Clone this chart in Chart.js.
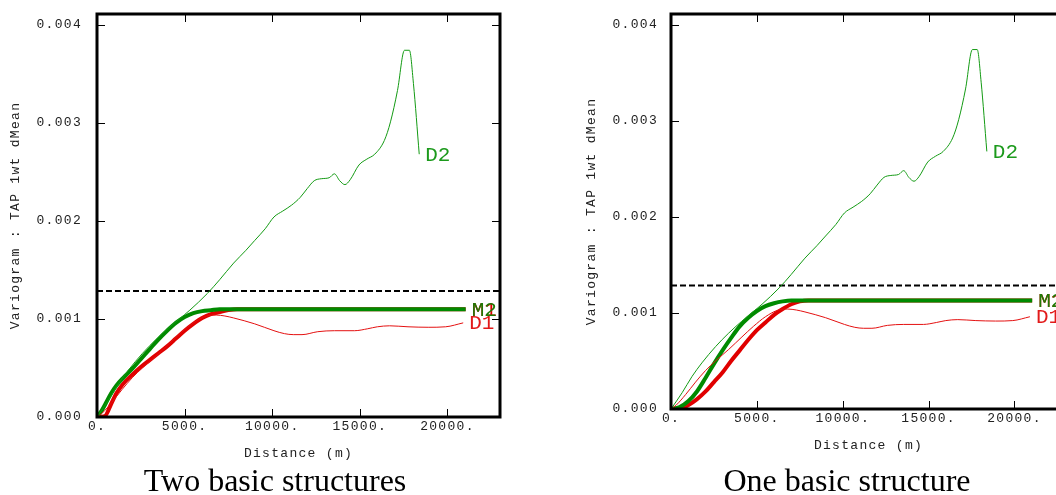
<!DOCTYPE html>
<html>
<head>
<meta charset="utf-8">
<script src="https://cdn.jsdelivr.net/npm/chart.js@4.4.1/dist/chart.umd.min.js"></script>
<style>
html,body{margin:0;padding:0;background:#fff;overflow:hidden;width:1056px;height:495px;}
#wrap{position:relative;width:1056px;height:495px;overflow:hidden;background:#fff;}
canvas{position:absolute;top:0;}
.cap{position:absolute;top:464px;width:400px;text-align:center;font-family:'Liberation Serif','Times New Roman',serif;font-size:32px;line-height:32px;color:#000;white-space:nowrap;}
</style>
</head>
<body>
<div id="wrap">
<canvas id="c1" width="528" height="495" style="left:0px"></canvas>
<canvas id="c2" width="520" height="495" style="left:576px"></canvas>
<div class="cap" id="t1" style="left:75px"></div>
<div class="cap" id="t2" style="left:647px"></div>
</div>
<script>
// ---- data ----
const panelTitles = ['Two basic structures', 'One basic structure'];
const xAxisTitle = 'Distance (m)';
const yAxisTitle = 'Variogram : TAP 1wt dMean';
const xTickValues = [0, 5000, 10000, 15000, 20000];
const yTickValues = [0, 0.001, 0.002, 0.003, 0.004];
const xMax = 23000;
const yMax = 0.00411;
const sillValue = 0.001285;

// experimental variograms (same in both panels)
const d1Dist = [0,300,850,1430,2010,2590,3360,4130,4800,5500,6250,6800,7300,7800,9000,10100,10700,11200,11700,12600,13550,14700,15450,16000,16700,17750,18900,19900,20900];
const d1Val  = [0,0.00004,0.00015,0.00028,0.0004,0.0005,0.00062,0.00075,0.00086,0.00096,0.00103,0.00104,0.00103,0.00101,0.00095,0.00088,0.00085,0.00084,0.00084,0.00087,0.00088,0.00088,0.0009,0.00092,0.00093,0.00092,0.000915,0.00092,0.00096];

const d2Dist = [0,650,1230,1800,2600,3360,4100,4700,5300,6300,7000,7800,8500,9000,9600,10100,10600,11100,11600,12000,12400,12800,13250,13550,13850,14150,14450,14950,15400,15850,16400,16750,17150,17550,17830,18060,18390];
const d2Val  = [0,0.00017,0.00034,0.00048,0.00065,0.00079,0.00091,0.001,0.00109,0.00126,0.0014,0.00157,0.0017,0.0018,0.00192,0.00204,0.0021,0.00216,0.00224,0.00233,0.00241,0.00243,0.00244,0.00248,0.00241,0.00237,0.00242,0.00257,0.00263,0.00268,0.00282,0.00301,0.00333,0.00374,0.00374,0.0034,0.00268];

// models, two basic structures
const m1TwoDist = [0,450,800,1100,1450,2000,2500,3000,3500,4000,4500,5000,5500,6000,6500,7000,7500,8000,21040];
const m1TwoVal  = [0,0.00001,0.00013,0.00024,0.00033,0.00043,0.00051,0.00058,0.00065,0.00072,0.0008,0.00088,0.00095,0.00101,0.00105,0.00107,0.00109,0.0011,0.0011];
const m2TwoDist = [0,250,500,800,1100,1500,2000,2500,3000,3500,4000,4500,5000,5500,6000,6500,7000,21040];
const m2TwoVal  = [0,0.00006,0.00014,0.00024,0.00032,0.0004,0.00049,0.00059,0.00069,0.00079,0.00088,0.00096,0.00102,0.00106,0.00108,0.00109,0.0011,0.0011];

// models, one basic structure
const m1OneDist = [0,500,1000,1500,2000,2500,3000,3500,4000,4500,5000,5500,6000,6500,7000,7500,8000,21030];
const m1OneVal  = [0,0.000005,0.00004,0.0001,0.00018,0.00028,0.00038,0.0005,0.00061,0.00072,0.00082,0.0009,0.00098,0.00104,0.00109,0.00112,0.00113,0.00113];
const m2OneDist = [0,500,1000,1500,2000,2500,3000,3500,4000,4500,5000,5500,6000,6500,7000,21030];
const m2OneVal  = [0,0.00002,0.00008,0.00018,0.00032,0.00047,0.00061,0.00074,0.00086,0.00095,0.00102,0.00107,0.0011,0.00112,0.00113,0.00113];

const seriesNames = ['D1', 'D2', 'M1', 'M2'];

// ---- styles ----
const RED = '#e41010';
const GREEN = '#139a13';
const RED_T = '#e00000';
const GREEN_T = '#008a00';
const MONO = "'Liberation Mono', 'Courier New', monospace";

document.getElementById('t1').textContent = panelTitles[0];
document.getElementById('t2').textContent = panelTitles[1];

const pts = (xs, ys) => xs.map((x, i) => ({x: x, y: ys[i]}));

const framePlugin = {
  id: 'frame',
  beforeLayout(chart) { chart.ctx.letterSpacing = '1.3px'; },
  beforeDraw(chart) { chart.ctx.letterSpacing = '1.3px'; },
  afterDatasetsDraw(chart) {
    const ctx = chart.ctx;
    const {left, right, top, bottom} = chart.chartArea;
    const xs = chart.scales.x, ys = chart.scales.y;
    ctx.save();
    ctx.letterSpacing = '0px';
    // inward tick marks
    ctx.strokeStyle = '#000';
    ctx.lineWidth = 1;
    ctx.beginPath();
    xTickValues.forEach(v => {
      const px = Math.round(xs.getPixelForValue(v)) + 0.5;
      ctx.moveTo(px, bottom); ctx.lineTo(px, bottom - 8);
      ctx.moveTo(px, top); ctx.lineTo(px, top + 8);
    });
    yTickValues.forEach(v => {
      const py = Math.round(ys.getPixelForValue(v)) + 0.5;
      ctx.moveTo(left, py); ctx.lineTo(left + 8, py);
      ctx.moveTo(right, py); ctx.lineTo(right - 8, py);
    });
    ctx.stroke();
    // frame
    ctx.lineWidth = 3;
    ctx.strokeRect(left, top, right - left, bottom - top);
    // end labels
    ctx.font = '21px ' + MONO;
    ctx.textBaseline = 'middle';
    ctx.textAlign = 'left';
    const order = ['D2', 'D1', 'M1', 'M2'];
    order.forEach(name => {
      const i = chart.data.datasets.findIndex(d => d.label === name);
      if (i < 0) return;
      const ds = chart.data.datasets[i];
      const meta = chart.getDatasetMeta(i);
      const last = meta.data[meta.data.length - 1];
      ctx.fillStyle = ds.labelColor;
      ctx.fillText(name, last.x + 6, last.y + 1);
    });
    ctx.restore();
  }
};

function makePanel(canvasId, m1d, m1v, m2d, m2v, yWidth, yGap, padRight, padBottom) {
  const datasets = [
    {label: seriesNames[1], data: pts(d2Dist, d2Val), borderColor: GREEN, borderWidth: 1, labelColor: '#1c9a1c'},
    {label: seriesNames[0], data: pts(d1Dist, d1Val), borderColor: RED, borderWidth: 1, labelColor: '#e21a1a'},
    {label: seriesNames[3], data: pts(m2d, m2v), borderColor: GREEN_T, borderWidth: 4, labelColor: '#1e7a06'},
    {label: seriesNames[2], data: pts(m1d, m1v), borderColor: RED_T, borderWidth: 4, labelColor: '#e00000'},
    {label: 'sill', data: [{x: 0, y: sillValue}, {x: xMax, y: sillValue}], borderColor: '#000', borderWidth: 2, borderDash: [6, 3], labelColor: null}
  ];
  datasets.forEach(d => {
    d.pointRadius = 0;
    d.cubicInterpolationMode = 'monotone';
    d.fill = false;
  });
  return new Chart(document.getElementById(canvasId), {
    type: 'line',
    data: {datasets: datasets},
    plugins: [framePlugin],
    options: {
      responsive: false,
      animation: false,
      events: [],
      devicePixelRatio: 1,
      layout: {padding: {left: 0, top: 14, right: padRight, bottom: padBottom}},
      plugins: {legend: {display: false}, tooltip: {enabled: false}, title: {display: false}},
      scales: {
        x: {
          type: 'linear', min: 0, max: xMax,
          afterBuildTicks: s => { s.ticks = xTickValues.map(v => ({value: v})); },
          afterFit: s => { s.height = 44; },
          grid: {display: true, drawOnChartArea: false, drawTicks: true, tickLength: 2, tickColor: 'rgba(0,0,0,0)'},
          border: {display: false},
          ticks: {padding: 0, color: '#222', maxRotation: 0, autoSkip: false,
                  font: {family: MONO, size: 13},
                  callback: v => String(v) + '.'},
          title: {display: true, text: xAxisTitle, color: '#222',
                  font: {family: MONO, size: 13}, padding: {top: 0, bottom: 0}}
        },
        y: {
          type: 'linear', min: 0, max: yMax,
          afterBuildTicks: s => { s.ticks = yTickValues.map(v => ({value: v})); },
          afterFit: s => { s.width = yWidth; },
          grid: {display: true, drawOnChartArea: false, drawTicks: true, tickLength: yGap, tickColor: 'rgba(0,0,0,0)'},
          border: {display: false},
          ticks: {padding: 0, color: '#222', font: {family: MONO, size: 13},
                  callback: v => Number(v).toFixed(3)},
          title: {display: true, text: yAxisTitle, color: '#222',
                  font: {family: MONO, size: 13}, padding: {top: 8, bottom: 0}}
        }
      }
    }
  });
}

makePanel('c1', m1TwoDist, m1TwoVal, m2TwoDist, m2TwoVal, 97, 15, 28, 34);
makePanel('c2', m1OneDist, m1OneVal, m2OneDist, m2OneVal, 95, 13, 30, 42);
</script>
</body>
</html>
